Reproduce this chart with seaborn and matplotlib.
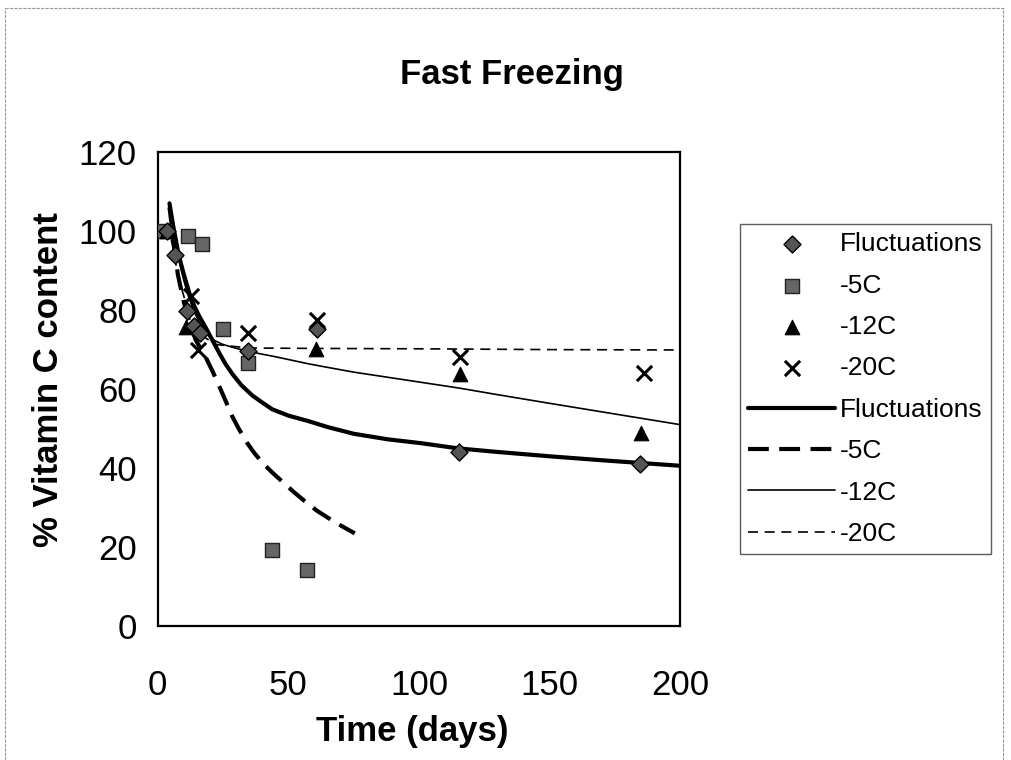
import matplotlib
matplotlib.use("Agg")
import matplotlib.pyplot as plt
import seaborn as sns
from matplotlib.lines import Line2D

# ---------------- data ----------------
fluc_x = [3.6, 6.8, 11.2, 13.7, 16, 34.4, 61.1, 115.2, 184.4]
fluc_y = [99.9, 93.9, 79.7, 76, 74.2, 69.6, 75.2, 44, 41]
m5_x = [2.4, 11.7, 16.8, 24.9, 34.4, 43.7, 57.2]
m5_y = [100, 98.7, 96.8, 75.1, 66.6, 19.2, 14.3]
m12_x = [3.6, 10.7, 60.6, 115.7, 184.9]
m12_y = [100, 75.6, 70.1, 63.9, 49]
m20_x = [12.9, 15.3, 34.4, 61.1, 115.7, 186]
m20_y = [83.5, 69.8, 74.3, 77.4, 68.2, 64.1]

# fitted curves
fluc_fit_x = [4.5, 6, 8, 10, 12, 14, 16, 18, 21, 24, 26, 28.6, 32, 36.2, 40, 43.8, 50,
              57.7, 65, 75, 88, 101, 115, 130, 150, 170, 185, 200]
fluc_fit_y = [107, 101, 94, 89, 84.5, 81, 78.3, 76, 72.3, 68.6, 66.3, 63.8, 61, 58.4, 56.6,
              54.9, 53.3, 51.9, 50.4, 48.7, 47.3, 46.3, 45, 44.1, 43, 42, 41.3, 40.6]
m5_fit_x = [4.5, 6, 7.7, 10, 12.8, 14.5, 16.6, 17.8, 21, 23.5, 26, 28.6, 31, 34.3, 37, 40.6,
            44, 47, 50, 52, 56, 61, 65, 70, 75.4]
m5_fit_y = [106, 98, 89, 82, 75.5, 72.5, 70, 68.8, 64.5, 60.8, 57, 53, 50, 46.3, 43.8, 41,
            38.8, 37, 35.2, 34, 31.8, 29.2, 27.5, 25.5, 23.5]
m12_fit_x = [4.5, 6, 8, 10, 12, 14, 16, 18, 20, 22, 25, 28, 32.4, 38, 45, 57.7, 65, 75, 88,
             100, 115, 130, 150, 175, 200]
m12_fit_y = [106, 100, 93, 87.5, 83, 79.5, 76.8, 74.8, 73.2, 72.2, 71.3, 70.7, 69.9, 69.1,
             68.2, 66.4, 65.5, 64.3, 63, 61.8, 60.3, 58.6, 56.4, 53.7, 51]
m20_fit_x = [4, 8, 12, 16, 22, 35, 60, 100, 150, 200]
m20_fit_y = [102, 88, 79, 74, 71.3, 70.4, 70.3, 70.2, 70.0, 69.9]

series_names = ["Fluctuations", "-5C", "-12C", "-20C"]
x_ticks = [0, 50, 100, 150, 200]
y_ticks = [0, 20, 40, 60, 80, 100, 120]

# ---------------- figure ----------------
sns.set_style("white")
plt.rcParams['font.family'] = ['Liberation Sans', 'DejaVu Sans']
plt.rcParams['text.color'] = 'black'
plt.rcParams['axes.labelcolor'] = 'black'
plt.rcParams['xtick.color'] = 'black'
plt.rcParams['ytick.color'] = 'black'

fig = plt.figure(figsize=(10.11, 7.6), dpi=100)
ax = fig.add_axes([0.156, 0.176, 0.517, 0.624])

# scatter series
sns.scatterplot(x=fluc_x, y=fluc_y, ax=ax, marker="D", s=75, color="#555555",
                edgecolor="black", linewidth=1.0, label=series_names[0], zorder=5)
sns.scatterplot(x=m5_x, y=m5_y, ax=ax, marker="s", s=110, color="#666666",
                edgecolor="#222222", linewidth=1.0, label=series_names[1], zorder=4)
sns.scatterplot(x=m12_x, y=m12_y, ax=ax, marker="^", s=110, color="black",
                edgecolor="black", linewidth=0.8, label=series_names[2], zorder=4)
sns.scatterplot(x=m20_x, y=m20_y, ax=ax, marker="x", s=120, color="black",
                linewidth=2.2, label=series_names[3], zorder=6)

# fitted lines
sns.lineplot(x=fluc_fit_x, y=fluc_fit_y, ax=ax, color="black", linewidth=3.0,
             sort=False, estimator=None, label=series_names[0], zorder=3)
sns.lineplot(x=m5_fit_x, y=m5_fit_y, ax=ax, color="black", linewidth=3.0,
             sort=False, estimator=None, label=series_names[1], zorder=3)
ax.lines[-1].set_dashes([5, 2.5])
sns.lineplot(x=m12_fit_x, y=m12_fit_y, ax=ax, color="black", linewidth=1.2,
             sort=False, estimator=None, label=series_names[2], zorder=3)
sns.lineplot(x=m20_fit_x, y=m20_fit_y, ax=ax, color="black", linewidth=1.2,
             sort=False, estimator=None, label=series_names[3], zorder=3)
ax.lines[-1].set_dashes([6, 4])

ax.set_xlim(0, 200)
ax.set_ylim(0, 120)
ax.set_xticks(x_ticks)
ax.set_yticks(y_ticks)
ax.set_xlabel("")
ax.set_ylabel("")
for sp in ax.spines.values():
    sp.set_visible(True)
    sp.set_color("black")
    sp.set_linewidth(1.6)
ax.tick_params(axis="x", direction="inout", length=10, width=1.0,
               labelsize=25, pad=26, colors="black")
ax.tick_params(axis="y", direction="inout", length=10, width=1.0,
               labelsize=25, pad=10, colors="black")

handles, labels = ax.get_legend_handles_labels()
leg = ax.legend(handles, labels, loc="upper left",
                bbox_to_anchor=(0.732, 0.705), bbox_transform=fig.transFigure,
                fontsize=19, frameon=True, fancybox=False, edgecolor="#333333",
                handlelength=3.3, handletextpad=0.2, labelspacing=0.66,
                borderpad=0.3, borderaxespad=0)
leg.get_frame().set_linewidth(1.0)
for t in leg.get_texts():
    t.set_color("black")

# title and axis labels
fig.text(0.506, 0.902, "Fast Freezing", ha="center", va="center",
         fontsize=25, fontweight="bold")
fig.text(0.408, 0.037, "Time (days)", ha="center", va="center",
         fontsize=25, fontweight="bold")
fig.text(0.048, 0.5, "% Vitamin C content", ha="center", va="center",
         rotation=90, fontsize=25, fontweight="bold")

# faint outer chart-area border
for (xs, ys) in [([0.005, 0.993], [0.989, 0.989]),
                 ([0.005, 0.005], [0.0, 0.989]),
                 ([0.992, 0.992], [0.0, 0.989])]:
    fig.add_artist(Line2D(xs, ys, transform=fig.transFigure, color="#999999",
                          linewidth=0.8, linestyle=(0, (3, 1))))

fig.savefig("out.png", dpi=100, facecolor="white")
